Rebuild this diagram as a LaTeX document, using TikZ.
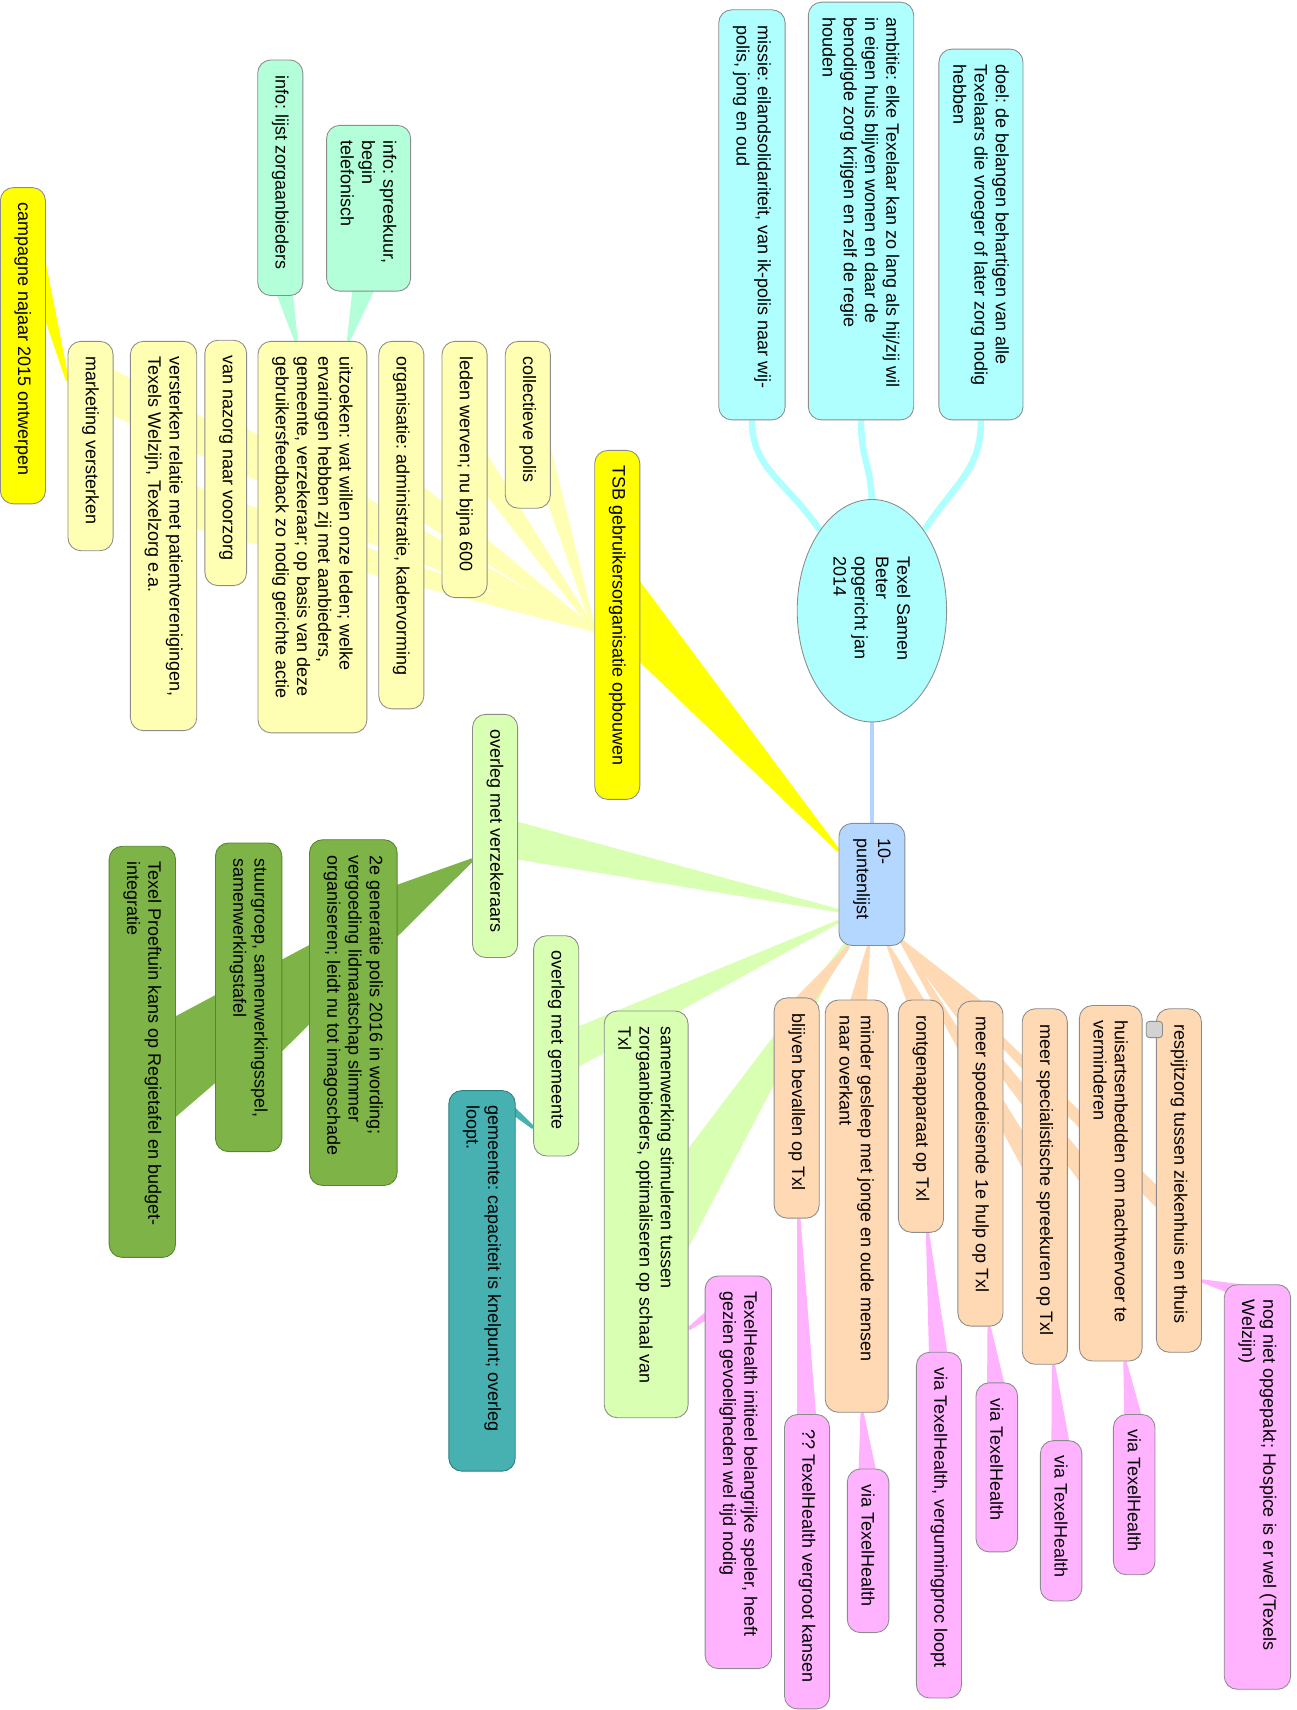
\documentclass[tikz,border=0pt]{standalone}
\usepackage{fontspec}
\setmainfont{Liberation Sans}
\usepackage{graphicx}
\usetikzlibrary{shapes.geometric,calc,backgrounds}
\frenchspacing

\definecolor{cyanbox}{HTML}{B0FFFF}
\definecolor{bluebox}{HTML}{B3D7FF}
\definecolor{blueedge}{HTML}{B3D4FC}
\definecolor{yellowbox}{HTML}{FFFF00}
\definecolor{paleyellow}{HTML}{FFFFB3}
\definecolor{mint}{HTML}{B3FFD9}
\definecolor{palegreen}{HTML}{D9FFB3}
\definecolor{darkgreen}{HTML}{7DB347}
\definecolor{darkgreenline}{HTML}{56862F}
\definecolor{tealbox}{HTML}{47B0B0}
\definecolor{tealline}{HTML}{2E7D7D}
\definecolor{peach}{HTML}{FFD9B3}
\definecolor{pinkbox}{HTML}{FFB3FF}
\definecolor{boxline}{HTML}{8C8C8C}

\newcommand{\vt}[2]{\rotatebox{-90}{\parbox{#1}{\raggedright #2}}}
\newcommand{\branch}[4]{%
  \path (#1) coordinate (bA) (#2) coordinate (bB);
  \fill[#4] ($(bA)!1.5pt!90:(bB)$) -- ($(bB)!#3!-90:(bA)$) -- ($(bB)!#3!90:(bA)$) -- ($(bA)!1.5pt!-90:(bB)$) -- cycle;}

\begin{document}
\begin{tikzpicture}[x=1pt,y=-1pt]
  \tikzstyle{every node}=[font=\fontsize{16.5pt}{19.5pt}\selectfont]
  \tikzstyle{topic}=[rectangle, draw=boxline, line width=0.8pt, rounded corners=12pt, inner xsep=13pt, inner ysep=14pt]
  \tikzstyle{rootnode}=[ellipse, draw=boxline, line width=0.8pt, fill=cyanbox, inner sep=0pt, minimum width=137pt, minimum height=204pt]
  \tikzstyle{notebox}=[rectangle, draw=boxline, line width=0.8pt, fill=gray!35, rounded corners=3pt, minimum size=15pt, inner sep=0pt]
  \tikzstyle{cyanline}=[draw=cyanbox, line width=6pt]
  \tikzstyle{blueline}=[draw=blueedge, line width=3pt]
  \useasboundingbox (0,0) rectangle (1189,1568);

  \node[rootnode] (root) at (799.5,560) {\vt{100pt}{Texel Samen\\Beter\\opgericht jan\\2014}};
  \node[topic, fill=bluebox] (pts) at (799.5,811) {\vt{84pt}{10-\\puntenlijst}};

  \node[topic, fill=cyanbox] (missie) at (689.5,197) {\vt{348pt}{missie: eilandsolidariteit, van ik-polis naar wij-\\polis, jong en oud}};
  \node[topic, fill=cyanbox] (ambitie) at (789.5,193.5) {\vt{355pt}{ambitie: elke Texelaar kan zo lang als hij/zij wil\\in eigen huis blijven wonen en daar de\\benodigde zorg krijgen en zelf de regie\\houden}};
  \node[topic, fill=cyanbox] (doel) at (899.5,215) {\vt{312pt}{doel: de belangen behartigen van alle\\Texelaars die vroeger of later zorg nodig\\hebben}};

  \node[topic, fill=yellowbox] (tsb) at (566,573) {\vt{292pt}{TSB gebruikersorganisatie opbouwen}};
  \node[topic, fill=paleyellow] (coll) at (484,389.5) {\vt{125pt}{collectieve polis}};
  \node[topic, fill=paleyellow] (leden) at (426,430.5) {\vt{207pt}{leden werven; nu bijna 600}};
  \node[topic, fill=paleyellow] (org) at (368,481.5) {\vt{309pt}{organisatie: administratie, kadervorming}};
  \node[topic, fill=paleyellow] (uitz) at (286.5,492.5) {\vt{331pt}{uitzoeken: wat willen onze leden; welke\\ervaringen hebben zij met aanbieders,\\gemeente, verzekeraar; op basis van deze\\gebruikersfeedback zo nodig gerichte actie}};
  \node[topic, fill=paleyellow] (nazorg) at (207,424.5) {\vt{197pt}{van nazorg naar voorzorg}};
  \node[topic, fill=paleyellow] (verst) at (150,491.5) {\vt{329pt}{versterken relatie met patientverenigingen,\\Texels Welzijn, Texelzorg e.a.}};
  \node[topic, fill=paleyellow] (mkt) at (83,409) {\vt{164pt}{marketing versterken}};
  \node[topic, fill=yellowbox] (camp) at (21,317) {\vt{262pt}{campagne najaar 2015 ontwerpen}};
  \node[topic, fill=mint] (spreek) at (338,191) {\vt{124pt}{info: spreekuur,\\begin\\telefonisch}};
  \node[topic, fill=mint] (lijst) at (257,163) {\vt{188pt}{info: lijst zorgaanbieders}};

  \node[topic, fill=palegreen] (ovv) at (454,766.5) {\vt{195pt}{overleg met verzekeraars}};
  \node[topic, fill=palegreen] (ovg) at (510,959) {\vt{174pt}{overleg met gemeente}};
  \node[topic, fill=palegreen] (samw) at (592.5,1113.5) {\vt{345pt}{samenwerking stimuleren tussen\\zorgaanbieders, optimaliseren op schaal van\\Txl}};
  \node[topic, fill=darkgreen, draw=darkgreenline] (gen2) at (324,928.5) {\vt{289pt}{2e generatie polis 2016 in wording;\\vergoeding lidmaatschap slimmer\\organiseren; leidt nu tot imagoschade}};
  \node[topic, fill=darkgreen, draw=darkgreenline] (stuur) at (228,914.5) {\vt{255pt}{stuurgroep, samenwerkingsspel,\\samenwerkingstafel}};
  \node[topic, fill=darkgreen, draw=darkgreenline] (proef) at (130.5,964.5) {\vt{349pt}{Texel Proeftuin kans op Regietafel en budget-\\integratie}};
  \node[topic, fill=tealbox, draw=tealline] (gcap) at (442,1174.5) {\vt{321pt}{gemeente: capaciteit is knelpunt; overleg\\loopt.}};

  \node[topic, fill=peach] (resp) at (1081,1082.5) {\vt{287pt}{respijtzorg tussen ziekenhuis en thuis}};
  \node[topic, fill=peach] (huis) at (1018.5,1085) {\vt{298pt}{huisartsenbedden om nachtvervoer te\\verminderen}};
  \node[topic, fill=peach] (spec) at (958,1088) {\vt{298pt}{meer specialistische spreekuren op Txl}};
  \node[topic, fill=peach] (spoed) at (899,1067) {\vt{270pt}{meer spoedeisende 1e hulp op Txl}};
  \node[topic, fill=peach] (rtg) at (844.5,1023.5) {\vt{185pt}{rontgenapparaat op Txl}};
  \node[topic, fill=peach] (gsl) at (785.5,1106) {\vt{350pt}{minder gesleep met jonge en oude mensen\\naar overkant}};
  \node[topic, fill=peach] (bev) at (730.5,1016) {\vt{174pt}{blijven bevallen op Txl}};
  \node[notebox] (note) at (1058.5,944) {};

  \node[topic, fill=pinkbox] (nog) at (1153,1363.5) {\vt{343pt}{nog niet opgepakt; Hospice is er wel (Texels\\Welzijn)}};
  \node[topic, fill=pinkbox] (via1) at (1040,1370.5) {\vt{119pt}{via TexelHealth}};
  \node[topic, fill=pinkbox] (via2) at (973,1394.5) {\vt{119pt}{via TexelHealth}};
  \node[topic, fill=pinkbox] (via3) at (914,1345.5) {\vt{127pt}{via TexelHealth}};
  \node[topic, fill=pinkbox] (verg) at (861,1398.5) {\vt{289pt}{via TexelHealth, vergunningproc loopt}};
  \node[topic, fill=pinkbox] (via4) at (796,1422) {\vt{122pt}{via TexelHealth}};
  \node[topic, fill=pinkbox] (vgr) at (740,1432) {\vt{242pt}{?? TexelHealth vergroot kansen}};
  \node[topic, fill=pinkbox] (init) at (677,1350) {\vt{332pt}{TexelHealth initieel belangrijke speler, heeft\\gezien gevoeligheden wel tijd nodig}};

  \begin{scope}[on background layer]
    \draw[cyanline] (missie.south) .. controls ($(missie.south)+(0,45)$) and ($(root.123)+(-30,-45)$) .. (root.123);
    \draw[cyanline] (ambitie.south) .. controls ($(ambitie.south)+(0,35)$) and ($(root.north)+(-2,-35)$) .. (root.north);
    \draw[cyanline] (doel.south) .. controls ($(doel.south)+(0,45)$) and ($(root.57)+(30,-45)$) .. (root.57);
    \draw[blueline] (root.south) -- (pts.north);

    \branch{$(pts.west)+(0,-31)$}{$(tsb)+(0,-23)$}{27pt}{yellowbox}
    \branch{$(tsb.west)+(0,5)$}{$(coll)+(0,-15)$}{12pt}{paleyellow}
    \branch{$(tsb.west)+(0,5)$}{$(leden)+(0,-23)$}{13pt}{paleyellow}
    \branch{$(tsb.west)+(0,5)$}{$(org)+(0,-33)$}{15pt}{paleyellow}
    \branch{$(tsb.west)+(0,5)$}{$(uitz)+(0,-35)$}{18pt}{paleyellow}
    \branch{$(tsb.west)+(0,5)$}{$(nazorg)+(0,-22)$}{18pt}{paleyellow}
    \branch{$(tsb.west)+(0,5)$}{$(verst)+(0,-35)$}{20pt}{paleyellow}
    \branch{$(tsb.west)+(0,5)$}{$(mkt)+(0,-59)$}{20pt}{paleyellow}
    \branch{$(mkt.west)+(0,-60)$}{$(camp.north)+(0,25)$}{12pt}{yellowbox}
    \branch{$(uitz.north)+(-15,0)$}{$(lijst.south)+(0,-20)$}{10pt}{mint}
    \branch{$(uitz.north)+(33,0)$}{$(spreek.south)+(0,-20)$}{13pt}{mint}

    \branch{$(pts.west)+(0,24)$}{ovv}{18pt}{palegreen}
    \branch{$(pts.west)+(0,34)$}{$(ovg)+(0,10)$}{18pt}{palegreen}
    \branch{$(pts.south west)+(8,-4)$}{$(samw)+(0,40)$}{30pt}{palegreen}
    \branch{$(ovv.west)+(0,22)$}{$(gen2)+(0,-82)$}{20pt}{darkgreen}
    \branch{$(ovv.west)+(0,22)$}{$(stuur)+(0,27)$}{38pt}{darkgreen}
    \branch{$(ovv.west)+(0,22)$}{$(proef)+(0,31)$}{42pt}{darkgreen}
    \branch{$(ovg.west)+(0,75)$}{$(gcap.north east)+(-8,14)$}{4pt}{tealbox}

    \branch{$(pts.south)+(-21,0)$}{$(bev.north)+(0,12)$}{9pt}{peach}
    \branch{$(pts.south)+(-3,0)$}{$(gsl.north)+(0,12)$}{9pt}{peach}
    \branch{$(pts.south)+(15,0)$}{$(rtg.north)+(0,12)$}{9pt}{peach}
    \branch{$(pts.south east)+(-4,-5)$}{$(spoed.north)+(0,12)$}{10pt}{peach}
    \branch{$(pts.south east)+(-4,-5)$}{spec}{10pt}{peach}
    \branch{$(pts.south east)+(-4,-5)$}{$(huis)+(0,20)$}{10pt}{peach}
    \branch{$(pts.south east)+(-4,-5)$}{$(resp)+(0,35)$}{8pt}{peach}

    \branch{$(resp.east)+(0,92)$}{$(nog.north)+(0,10)$}{8pt}{pinkbox}
    \branch{$(huis.south)+(13,0)$}{$(via1.north)+(0,10)$}{9pt}{pinkbox}
    \branch{$(spec.south)+(8,0)$}{$(via2.north)+(0,10)$}{9pt}{pinkbox}
    \branch{$(spoed.south)+(8,0)$}{$(via3.north)+(0,10)$}{9pt}{pinkbox}
    \branch{$(rtg.south)+(6,0)$}{$(verg.north)+(0,10)$}{9pt}{pinkbox}
    \branch{$(gsl.south)+(5,0)$}{$(via4.north)+(0,10)$}{9pt}{pinkbox}
    \branch{$(bev.south)+(2,0)$}{$(vgr.north)+(0,10)$}{9pt}{pinkbox}
    \branch{$(samw.east)+(0,105)$}{$(init.north west)+(25,20)$}{6pt}{pinkbox}
  \end{scope}
\end{tikzpicture}
\end{document}
